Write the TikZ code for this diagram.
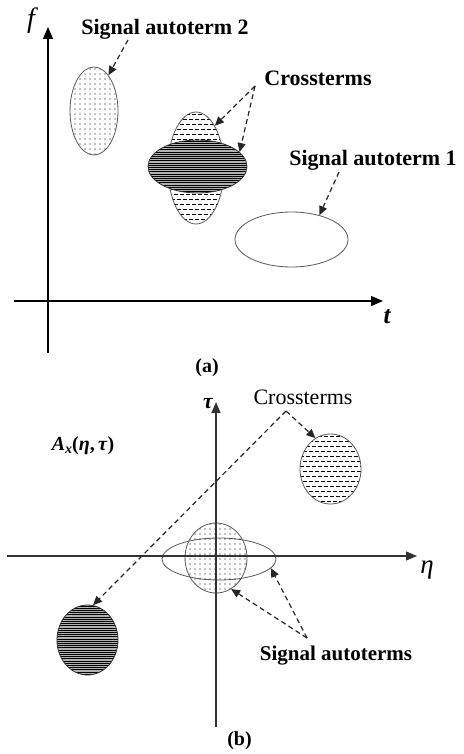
\documentclass[tikz,border=0pt]{standalone}
\usepackage{fontspec}
\setmainfont{Liberation Serif}
\usetikzlibrary{arrows.meta,patterns.meta,shapes.geometric}
\begin{document}
\begin{tikzpicture}[x=1pt,y=-1pt,
  blob/.style={ellipse, inner sep=0pt, draw=gray!70!black, line width=0.8pt},
  dotfill/.style={pattern={Dots[radius=0.6pt,distance=5pt]}},
  hatchfill/.style={path picture={
    \foreach \k [evaluate=\k as \ph using {mod(\k,2)*3}] in {0,...,26}{
      \draw[black, line width=0.6pt, dash pattern=on 3.5pt off 2.5pt]
        ([xshift=\ph pt, yshift=-\k*5pt-2.5pt]path picture bounding box.north west) --
        ([yshift=-\k*5pt-2.5pt]path picture bounding box.north east);}}},
  darkfill/.style={path picture={
    \fill[gray!60] (path picture bounding box.south west) rectangle (path picture bounding box.north east);
    \foreach \k in {0,...,40}{
      \draw[black, line width=0.75pt]
        ([yshift=-\k*2.2pt-1pt]path picture bounding box.north west) --
        ([yshift=-\k*2.2pt-1pt]path picture bounding box.north east);}}},
  axisa/.style={line width=1.2pt, -{Triangle[length=12pt,width=10pt]}},
  axisb/.style={line width=1.3pt, gray!40!black, -{Triangle[length=11pt,width=9pt]}},
  darr/.style={line width=1.2pt, black!85, dash pattern=on 5pt off 3.5pt, -{Triangle[length=9pt,width=8pt]}},
  lbl/.style={inner sep=0pt, font=\fontsize{22}{24}\selectfont\bfseries},
  lblb/.style={inner sep=0pt, font=\fontsize{21}{24}\selectfont\bfseries},
  lblr/.style={inner sep=0pt, font=\fontsize{22}{24}\selectfont},
  captxt/.style={inner sep=0pt, font=\fontsize{20}{22}\selectfont\bfseries},
]
\useasboundingbox (0,0) rectangle (463,754);

% ---------------- (a) ----------------
\coordinate (fbot) at (48,353);
\coordinate (ftop) at (48,27);
\coordinate (tleft) at (14,301);
\coordinate (tright) at (383,301);
\draw[axisa] (fbot) -- (ftop);
\draw[axisa] (tleft) -- (tright);
\node[inner sep=0pt, font=\fontsize{28}{28}\selectfont\itshape] (flab) at (31,21) {f};
\node[inner sep=0pt, font=\fontsize{25}{25}\selectfont\bfseries\itshape] (tlab) at (387,317) {t};

\node[blob, dotfill, minimum width=48pt, minimum height=88pt] (e2) at (94,111) {};
\node[blob, hatchfill, minimum width=56pt, minimum height=112pt] (lobe) at (196,168) {};
\node[blob, darkfill, draw=black!80, minimum width=99pt, minimum height=53pt] (dark) at (197.5,166.5) {};
\node[blob, minimum width=113pt, minimum height=55pt] (e1) at (291.5,239.5) {};

\node[lbl] (l2) at (165,29) {Signal autoterm 2};
\node[lbl] (lc) at (318,78) {Crossterms};
\node[lbl] (l1) at (373,160) {Signal autoterm 1};

\coordinate (s2) at (128,40);
\coordinate (sc) at (255,86);
\coordinate (s1) at (339,172);
\draw[darr] (s2) -- (e2.68);
\draw[darr] (sc) -- (lobe.66);
\draw[darr] (sc) -- (dark.19);
\draw[darr] (s1) -- (e1.41);

\node[captxt] (capa) at (207,368) {(a)};

% ---------------- (b) ----------------
\node[blob, minimum width=114pt, minimum height=42pt] (hb) at (219,559) {};
\node[blob, dotfill, minimum width=62pt, minimum height=70pt] (vb) at (216,558) {};
\node[blob, hatchfill, minimum width=61pt, minimum height=70pt] (rc) at (330.5,469) {};
\node[blob, darkfill, draw=black!80, minimum width=61pt, minimum height=70pt] (lcirc) at (87.5,640) {};

\coordinate (taubot) at (216,727);
\coordinate (tautop) at (216,402);
\coordinate (etaleft) at (7,556);
\coordinate (etaright) at (417,556);
\draw[axisb] (taubot) -- (tautop);
\draw[axisb] (etaleft) -- (etaright);
\node[inner sep=0pt, font=\fontsize{22}{22}\selectfont\bfseries\itshape] (taulab) at (208,404) {τ};
\node[inner sep=0pt, font=\fontsize{27}{27}\selectfont\itshape] (etalab) at (427,570) {η};

\node[inner sep=0pt, font=\fontsize{20}{20}\selectfont\bfseries] (ax) at (83,446)
  {\textit{A}\raisebox{-3pt}{\fontsize{14}{14}\selectfont\textit{x}}(\textit{η},\,\textit{τ})};

\node[lblr] (cb) at (303,397) {Crossterms};
\coordinate (cbapex) at (286,411);
\draw[darr] (cbapex) -- (rc.116);
\draw[darr] (cbapex) -- (lcirc.81);

\node[lblb] (sa) at (336,656) {Signal autoterms};
\coordinate (saapex) at (307,638);
\draw[darr] (saapex) -- (vb.-64);
\draw[darr] (saapex) -- (hb.-10);

\node[captxt] (capb) at (239.5,741) {(b)};
\end{tikzpicture}
\end{document}
